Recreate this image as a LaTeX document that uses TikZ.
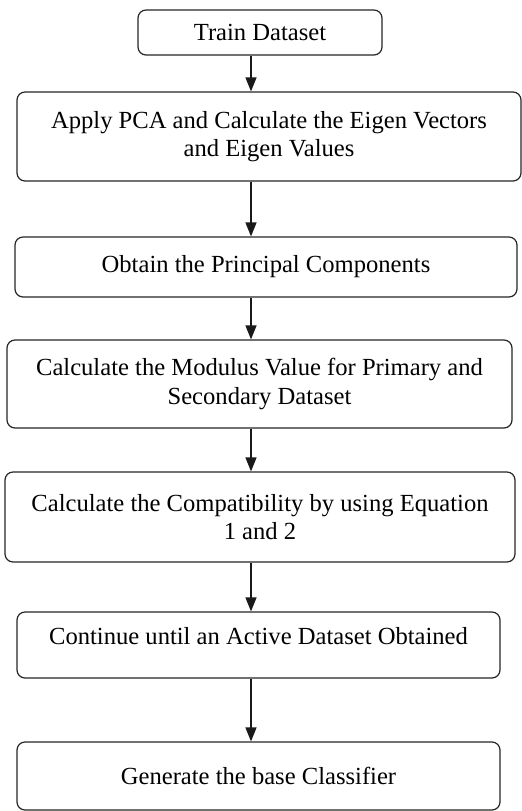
\documentclass[tikz,border=0pt]{standalone}
\usepackage{fontspec}
\setmainfont{Liberation Serif}
\usetikzlibrary{arrows.meta}
\tikzset{
  paso/.style={rectangle, rounded corners=4pt, draw=black!85, line width=0.6pt,
    fill=white, align=center, inner sep=2pt,
    font=\fontsize{12.3}{14.2}\selectfont},
  flecha/.style={-{Triangle[length=7pt, width=5.5pt]}, line width=0.7pt, color=black!90}
}
\begin{document}
\begin{tikzpicture}[x=0.5pt, y=-0.5pt]
  \useasboundingbox (0,0) rectangle (522,811);
  \coordinate (eje) at (251,0);
  \node[paso, minimum width=122pt, minimum height=22.5pt] (train) at (260,32.5) {Train Dataset};
  \node[paso, minimum width=252pt, minimum height=44.5pt] (pca) at (269,136.5)
    {Apply PCA and Calculate the Eigen Vectors\\and Eigen Values};
  \node[paso, minimum width=251pt, minimum height=30pt] (pc) at (266,267)
    {Obtain the Principal Components};
  \node[paso, minimum width=252.5pt, minimum height=44pt] (mod) at (259.5,384)
    {Calculate the Modulus Value for Primary and\\Secondary Dataset};
  \node[paso, minimum width=255pt, minimum height=45pt] (comp) at (260,517)
    {Calculate the Compatibility by using Equation\\1 and 2};
  \node[paso, minimum width=241.5pt, minimum height=33pt, text depth=9pt] (cont) at (258.5,645)
    {Continue until an Active Dataset Obtained};
  \node[paso, minimum width=241.5pt, minimum height=34pt] (gen) at (258.5,776)
    {Generate the base Classifier};
  \draw[flecha] (train.south -| eje) -- (pca.north -| eje);
  \draw[flecha] (pca.south -| eje) -- (pc.north -| eje);
  \draw[flecha] (pc.south -| eje) -- (mod.north -| eje);
  \draw[flecha] (mod.south -| eje) -- (comp.north -| eje);
  \draw[flecha] (comp.south -| eje) -- (cont.north -| eje);
  \draw[flecha] (cont.south -| eje) -- (gen.north -| eje);
\end{tikzpicture}
\end{document}
